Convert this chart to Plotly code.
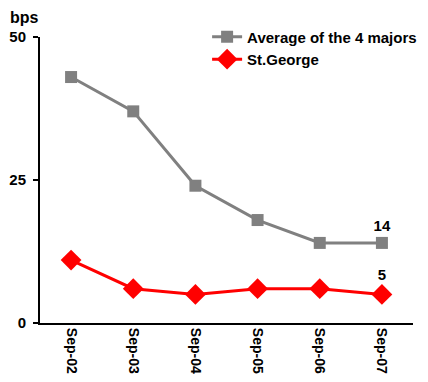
import plotly.graph_objects as go

categories = ["Sep-02", "Sep-03", "Sep-04", "Sep-05", "Sep-06", "Sep-07"]
avg_majors = [43, 37, 24, 18, 14, 14]
st_george = [11, 6, 5, 6, 6, 5]
y_ticks = [0, 25, 50]

GRAY = "#808080"
RED = "#FF0000"
FONT = "Liberation Sans, Arial, sans-serif"

def last_label(vals):
    return [""] * (len(vals) - 1) + [str(vals[-1])]

fig = go.Figure()
fig.add_trace(go.Scatter(
    x=categories, y=avg_majors, name="Average of the 4 majors",
    mode="lines+markers+text", text=last_label(avg_majors), legendgroup="a",
    textposition="top center", textfont=dict(size=15, color="black", family=FONT, weight="bold"),
    line=dict(color=GRAY, width=3),
    marker=dict(symbol="square", size=12, color=GRAY),
    cliponaxis=False,
))
fig.add_trace(go.Scatter(
    x=categories, y=st_george, name="St.George",
    mode="lines+markers+text", text=last_label(st_george), legendgroup="b",
    textposition="top center", textfont=dict(size=15, color="black", family=FONT, weight="bold"),
    line=dict(color=RED, width=3),
    marker=dict(symbol="diamond", size=16, color=RED),
    cliponaxis=False,
))

# page body has an 8px margin, so the figure is sized/offset to compensate
fig.update_layout(
    width=420, height=374,
    margin=dict(l=32, r=15, t=29, b=59, autoexpand=False),
    paper_bgcolor="white", plot_bgcolor="white",
    font=dict(family=FONT, size=15, color="black", weight="bold"),
    showlegend=True,
    legend=dict(x=0.448, y=1.058, xanchor="left", yanchor="top",
                bgcolor="rgba(0,0,0,0)", font=dict(size=15, weight="bold"),
                tracegroupgap=0, itemwidth=30),
    annotations=[dict(text="bps", x=-0.041, y=1.068, xref="paper", yref="paper",
                      xanchor="center", yanchor="middle", showarrow=False,
                      font=dict(size=16, weight="bold"))],
)
fig.update_xaxes(
    type="category", range=[-0.5, 5.5], showline=True, linecolor="black", linewidth=2,
    ticks="", tickangle=90, showgrid=False, zeroline=False,
    tickfont=dict(size=14, weight="bold"),
)
fig.update_yaxes(
    range=[0, 50], tickvals=y_ticks, showline=True, linecolor="black", linewidth=2,
    ticks="outside", ticklen=5, tickwidth=2, tickcolor="black", showgrid=False, zeroline=False,
    tickfont=dict(size=15, weight="bold"), ticklabelstandoff=4,
)

fig.write_html("out.html")
